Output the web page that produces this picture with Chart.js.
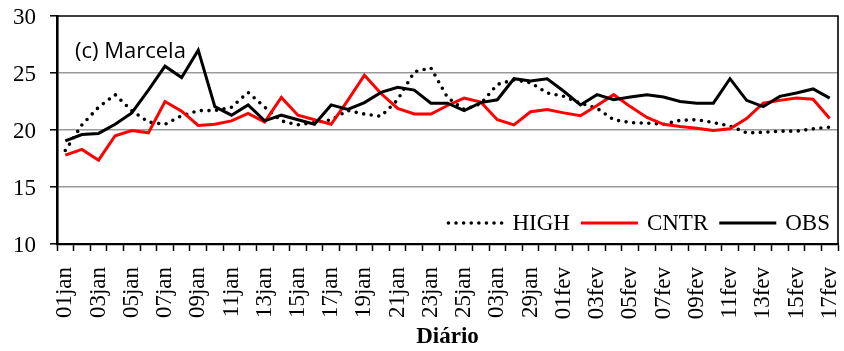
<!DOCTYPE html>
<html>
<head>
<meta charset="utf-8">
<script src="https://cdn.jsdelivr.net/npm/chart.js@4/dist/chart.umd.min.js"></script>
<style>
  html, body { margin: 0; padding: 0; background: #fff; }
  canvas { display: block; }
</style>
</head>
<body>
<canvas id="chart" width="844" height="351"></canvas>
<script>
// Daily categories (one January day absent from the record)
const days = [
  '01jan','02jan','03jan','04jan','05jan','06jan','07jan','08jan','09jan','10jan',
  '11jan','12jan','13jan','14jan','15jan','16jan','17jan','18jan','19jan','20jan',
  '21jan','22jan','23jan','24jan','25jan','26jan','27jan','28jan','29jan','31jan',
  '01fev','02fev','03fev','04fev','05fev','06fev','07fev','08fev','09fev','10fev',
  '11fev','12fev','13fev','14fev','15fev','16fev','17fev'
];

// Labels printed under every second day
const tickLabels = [
  '01jan','03jan','05jan','07jan','09jan','11jan','13jan','15jan','17jan','19jan',
  '21jan','23jan','25jan','03jan','29jan','01fev','03fev','05fev','07fev','09fev',
  '11fev','13fev','15fev','17fev'
];

const seriesNames = ['HIGH', 'CNTR', 'OBS'];

const high = [
  18.2, 20.45, 22.0, 23.1, 21.7, 20.7, 20.5, 21.25, 21.7, 21.7,
  22.0, 23.3, 22.0, 20.8, 20.45, 20.65, 20.9, 21.7, 21.4, 21.2,
  22.65, 25.1, 25.45, 22.85, 21.8, 22.3, 24.0, 24.4, 24.15, 23.25,
  22.95, 22.35, 21.9, 20.9, 20.65, 20.6, 20.5, 20.85, 20.9, 20.65,
  20.35, 19.75, 19.8, 19.9, 19.9, 20.1, 20.25
];

const cntr = [
  17.8, 18.3, 17.35, 19.5, 19.95, 19.75, 22.5, 21.65, 20.4, 20.5,
  20.8, 21.45, 20.7, 22.85, 21.3, 20.9, 20.5, 22.6, 24.8, 23.2,
  21.9, 21.4, 21.4, 22.15, 22.8, 22.45, 20.9, 20.45, 21.6, 21.8,
  21.5, 21.25, 22.15, 23.1, 22.05, 21.1, 20.5, 20.3, 20.15, 19.95,
  20.1, 21.0, 22.35, 22.6, 22.8, 22.7, 21.0
];

const obs = [
  19.05, 19.6, 19.7, 20.5, 21.5, 23.5, 25.6, 24.6, 27.0, 22.05,
  21.3, 22.2, 20.8, 21.3, 20.9, 20.5, 22.2, 21.8, 22.4, 23.3,
  23.75, 23.5, 22.35, 22.35, 21.7, 22.4, 22.65, 24.5, 24.3, 24.5,
  23.4, 22.2, 23.1, 22.65, 22.9, 23.1, 22.9, 22.5, 22.35, 22.35,
  24.5, 22.6, 22.05, 22.95, 23.25, 23.6, 22.8
];

const yMin = 10, yMax = 30, yStep = 5;
const panelLabel = '(c) Marcela';
const axisTitle = 'Diário';

const serif = "'Liberation Serif', 'Times New Roman', serif";
const sans = "'Open Sans', 'Liberation Sans', sans-serif";

// Black frame around the plotting area
const framePlugin = {
  id: 'frame',
  afterDraw(chart) {
    const { ctx, chartArea: a } = chart;
    ctx.save();
    ctx.strokeStyle = '#000';
    ctx.lineWidth = 1.6;
    ctx.beginPath();
    ctx.moveTo(a.left, a.top);
    ctx.lineTo(a.right, a.top);
    ctx.lineTo(a.right, a.bottom);
    ctx.stroke();
    ctx.restore();
  }
};

// Panel caption in the upper-left corner
const captionPlugin = {
  id: 'caption',
  afterDraw(chart) {
    const { ctx, chartArea: a } = chart;
    ctx.save();
    ctx.font = '22px ' + sans;
    ctx.fillStyle = '#000';
    ctx.textBaseline = 'alphabetic';
    ctx.textAlign = 'left';
    ctx.fillText(panelLabel, a.left + 18, a.top + 42);
    ctx.restore();
  }
};

// Legend drawn inside the plot, along the bottom right
const insideLegendPlugin = {
  id: 'insideLegend',
  afterDraw(chart) {
    const { ctx, chartArea: a } = chart;
    const sampleLen = 57, gapAfterSample = 9, gapAfterText = 11;
    ctx.save();
    ctx.font = '23px ' + serif;
    const items = chart.data.datasets.map(ds => ({
      ds, w: ctx.measureText(ds.label).width
    }));
    let total = 0;
    items.forEach((it, i) => {
      total += sampleLen + gapAfterSample + it.w + (i < items.length - 1 ? gapAfterText : 0);
    });
    let x = a.right - 8 - total;
    const y = a.bottom - 21;
    items.forEach(it => {
      const ds = it.ds;
      ctx.save();
      ctx.strokeStyle = ds.borderColor;
      ctx.lineWidth = ds.borderWidth;
      ctx.lineCap = ds.borderCapStyle || 'butt';
      ctx.setLineDash(ds.borderDash || []);
      ctx.beginPath();
      ctx.moveTo(x + (ds.borderDash ? 2 : 0), y);
      ctx.lineTo(x + sampleLen, y);
      ctx.stroke();
      ctx.restore();
      x += sampleLen + gapAfterSample;
      ctx.fillStyle = '#000';
      ctx.textBaseline = 'middle';
      ctx.textAlign = 'left';
      ctx.fillText(ds.label, x, y + 1);
      x += it.w + gapAfterText;
    });
    ctx.restore();
  }
};

new Chart(document.getElementById('chart'), {
  type: 'line',
  data: {
    labels: days,
    datasets: [
      {
        label: seriesNames[0],
        data: high,
        borderColor: '#000',
        borderWidth: 3.6,
        borderDash: [0, 7.6],
        borderCapStyle: 'round',
        order: 3
      },
      {
        label: seriesNames[1],
        data: cntr,
        borderColor: '#ff0000',
        borderWidth: 3,
        order: 2
      },
      {
        label: seriesNames[2],
        data: obs,
        borderColor: '#000',
        borderWidth: 3,
        order: 1
      }
    ]
  },
  options: {
    responsive: false,
    animation: false,
    devicePixelRatio: 1,
    layout: { padding: { top: 16, right: 6, left: 0, bottom: 0 } },
    elements: {
      point: { radius: 0, hoverRadius: 0 },
      line: { tension: 0, fill: false }
    },
    plugins: {
      legend: { display: false },
      tooltip: { enabled: false }
    },
    scales: {
      x: {
        type: 'category',
        offset: true,
        grid: {
          offset: true,
          drawOnChartArea: false,
          drawTicks: true,
          tickLength: 7,
          tickColor: '#000',
          tickWidth: 1.5
        },
        border: { display: true, color: '#000', width: 2.2 },
        ticks: {
          autoSkip: false,
          maxRotation: 90,
          minRotation: 90,
          padding: 16,
          color: '#000',
          font: { family: serif, size: 23 },
          callback: (v, i) => (i % 2 === 0 ? tickLabels[i / 2] : '')
        },
        title: {
          display: true,
          text: axisTitle,
          color: '#000',
          font: { family: serif, size: 23, weight: 'bold' },
          padding: { top: 0, bottom: 0 }
        },
        afterFit(scale) {
          scale.height = 107;
          scale.paddingLeft = 0;
          scale.paddingRight = 0;
        }
      },
      y: {
        min: yMin,
        max: yMax,
        ticks: {
          stepSize: yStep,
          padding: 14,
          labelOffset: 2,
          color: '#000',
          font: { family: serif, size: 23 }
        },
        grid: {
          color: c => (c.tick && (c.tick.value === yMin || c.tick.value === yMax)) ? 'rgba(0,0,0,0)' : '#999',
          lineWidth: 1.6,
          tickLength: 7,
          tickColor: '#000',
          tickWidth: 1.5
        },
        border: { display: true, color: '#000', width: 2.6 },
        afterFit(scale) {
          scale.width = 57;
          scale.paddingTop = 0;
          scale.paddingBottom = 0;
        }
      }
    }
  },
  plugins: [framePlugin, captionPlugin, insideLegendPlugin]
});
</script>
</body>
</html>
